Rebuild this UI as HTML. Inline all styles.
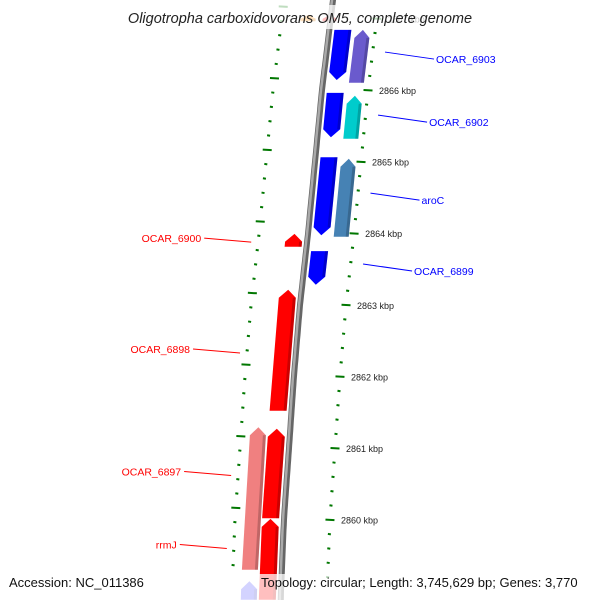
<!DOCTYPE html>
<html><head><meta charset="utf-8"><style>
html,body{margin:0;padding:0;background:#fff;width:600px;height:600px;overflow:hidden}
svg{display:block;font-family:"Liberation Sans","DejaVu Sans",sans-serif}
</style></head><body>
<svg id="map" width="600" height="600" viewBox="0 0 600 600">
<g id="ticks"></g>
<g id="genes"></g>
<g id="backbone"></g>
<g id="labels"></g>
<rect x="100" y="5" width="400" height="24" fill="#fff" opacity="0.75"/>
<text x="300" y="23" text-anchor="middle" font-size="14.5" font-style="italic" fill="#222">Oligotropha carboxidovorans OM5, complete genome</text>
<rect x="0" y="574" width="600" height="26" fill="#fff" opacity="0.75"/>
<text x="9" y="587" font-size="13" fill="#111">Accession: NC_011386</text>
<text x="261" y="587" font-size="13" fill="#111">Topology: circular; Length: 3,745,629 bp; Genes: 3,770</text>
</svg>
<script>
// data
const tickKbp = [2867, 2866, 2865, 2864, 2863, 2862, 2861, 2860, 2859];
const fwdLane1Start = [2866.84, 2865.96, 2865.06, 2863.75];
const fwdLane1End = [2866.14, 2865.34, 2863.97, 2863.28];
const fwdLane2Start = [2866.84, 2865.92, 2865.04];
const fwdLane2End = [2866.10, 2865.32, 2863.95];
const fwdLane2Color = ["#6a5acd", "#00cccc", "#4682b4"];
const revLane1Start = [2863.81, 2861.52, 2860.02, 2858.88];
const revLane1End = [2863.99, 2863.21, 2861.27, 2860.01];
const revLane2Start = [2859.30];
const revLane2End = [2861.29];
const fwdLabels = ["OCAR_6903", "OCAR_6902", "aroC", "OCAR_6899"];
const fwdLabelKbp = [2866.46, 2865.58, 2864.49, 2863.50];
const revLabels = ["OCAR_6900", "OCAR_6898", "OCAR_6897", "rrmJ"];
const revLabelKbp = [2863.89, 2862.34, 2860.63, 2859.61];

const NS = "http://www.w3.org/2000/svg";
function mk(tag, attrs, parent){const e=document.createElementNS(NS,tag);for(const k in attrs)e.setAttribute(k,attrs[k]);parent.appendChild(e);return e;}
// axis: kbp -> y
function yOf(k){return 90 + (2866 - k) * 71.6;}
// backbone x for a given y (arc approximation)
const BY=[-80,0,90,162,234,305,376,448,519,591,680];
const BX=[342,333,322,315,308,300,294,289,284,281,279];
function bx(y){for(let i=0;i<BY.length-1;i++){if(y<=BY[i+1]){const t=(y-BY[i])/(BY[i+1]-BY[i]);return BX[i]+t*(BX[i+1]-BX[i]);}}return BX[BX.length-1];}

const ticksG=document.getElementById('ticks');
const genesG=document.getElementById('genes');
const bbG=document.getElementById('backbone');
const labG=document.getElementById('labels');

// backbone
let d="";for(let y=-5;y<=605;y+=5){d+=(y===-5?"M":"L")+bx(y).toFixed(1)+","+y;}
let bb=mk('path',{d:d,stroke:"#666",'stroke-width':6,fill:"none"},bbG);


let bb2=mk('path',{d:d,stroke:"#aaa",'stroke-width':2.5,fill:"none",transform:"translate(-1,0)"},bbG);



// tick rings
for(let i=0;i<tickKbp.length-1;i++){
  for(let j=0;j<5;j++){
    const k=tickKbp[i]-j*0.2;
    const y=yOf(k);
    const major=j===0;
    const len=major?9:3;
    // outer ring
    const xo=bx(y)+46;
    let t=mk('line',{x1:xo-len/2,y1:y,x2:xo+len/2,y2:y+0.5,stroke:"#007700",'stroke-width':2},ticksG);
    
    
    // inner ring
    const yi=y-12, xi=bx(yi)-49;
    let t2=mk('line',{x1:xi-len/2,y1:yi,x2:xi+len/2,y2:yi+0.5,stroke:"#007700",'stroke-width':2},ticksG);
    
    
    if(major){
      let lb=mk('text',{x:xo+11,y:y+4,'font-size':9,fill:"#222"},ticksG);
      lb.textContent=tickKbp[i]+" kbp";
      
      
    }
  }
}

// gene drawing: lane offsets relative to backbone, dir: +1 arrow toward bottom, -1 toward top
function gene(k1,k2,o1,o2,color,dir,name){
  let ya=yOf(Math.max(k1,k2)), yb=yOf(Math.min(k1,k2));
  const h=Math.min(8,(yb-ya)*0.6);
  let pts;
  const mid=(o1+o2)/2;
  if(dir>0){
    pts=[[bx(ya)+o1,ya],[bx(ya)+o2,ya],[bx(yb-h)+o2,yb-h],[bx(yb)+mid,yb],[bx(yb-h)+o1,yb-h]];
  }else{
    pts=[[bx(ya+h)+o1,ya+h],[bx(ya)+mid,ya],[bx(ya+h)+o2,ya+h],[bx(yb)+o2,yb],[bx(yb)+o1,yb]];
  }
  let p=mk('polygon',{points:pts.map(q=>q[0].toFixed(1)+","+q[1].toFixed(1)).join(" "),fill:color},genesG);
  
  
  // shading strip
  const ys=dir>0?yb-h:yb, ye=dir>0?ya:ya+h;
  let s=mk('polygon',{points:[[bx(ye)+o2-3,ye],[bx(ye)+o2,ye],[bx(ys)+o2,ys],[bx(ys)+o2-3,ys]].map(q=>q[0].toFixed(1)+","+q[1].toFixed(1)).join(" "),fill:"#000",opacity:0.2},genesG);
  
  
}
for(let i=0;i<fwdLane1Start.length;i++)gene(fwdLane1Start[i],fwdLane1End[i],5,22,"#0000ff",1,'forward-gene');
for(let i=0;i<fwdLane2Start.length;i++)gene(fwdLane2Start[i],fwdLane2End[i],26,41,fwdLane2Color[i],0,'forward-gene-2');
// fix: lane2 are plain boxes
for(let i=0;i<revLane1Start.length;i++)gene(revLane1Start[i],revLane1End[i],-22,-5,"#ff0000",-1,'reverse-gene');
for(let i=0;i<revLane2Start.length;i++)gene(revLane2Start[i],revLane2End[i],-40,-24,"#f08080",0,'reverse-gene-2');
// faded partial features at edges
gene(2858.88,2859.14,-40,-24,"#5050ff",0,'reverse-gene-2');
gene(2867.05,2866.96,-30,-15,"#ff8c00",0,'top-gene');
gene(2867.05,2866.96,-8,6,"#ff0000",0,'top-gene');

// labels
for(let i=0;i<fwdLabels.length;i++){
  const y=yOf(fwdLabelKbp[i]);const x0=bx(y)+59;
  let l=mk('line',{x1:x0,y1:y-5,x2:x0+49,y2:y+2,stroke:"#0000ff",'stroke-width':1},labG);
  
  
  let t=mk('text',{x:x0+51,y:y+6,'font-size':10.5,fill:"#0000ff"},labG);
  t.textContent=fwdLabels[i];
  
  
}
for(let i=0;i<revLabels.length;i++){
  const y=yOf(revLabelKbp[i]);const x1=bx(y)-56;
  let l=mk('line',{x1:x1-47,y1:y-3,x2:x1,y2:y+1,stroke:"#ff0000",'stroke-width':1},labG);
  
  
  let t=mk('text',{x:x1-50,y:y+1,'text-anchor':"end",'font-size':10.5,fill:"#ff0000"},labG);
  t.textContent=revLabels[i];
  
  
}
</script>
</body></html>
